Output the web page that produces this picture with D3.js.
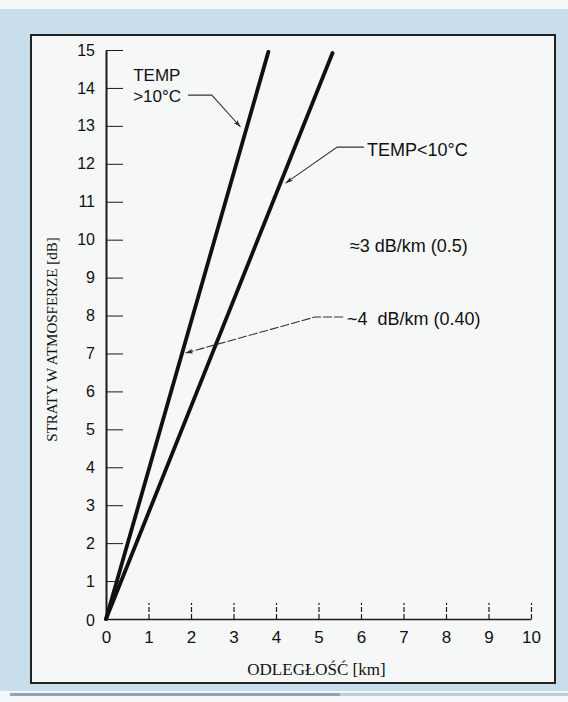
<!DOCTYPE html>
<html>
<head>
<meta charset="utf-8">
<script src="https://cdn.jsdelivr.net/npm/d3@7"></script>
<style>
	body { margin: 0; background: #f4f6f7; }
	.axis path, .axis line { stroke: #1a1a1a; }
	.axis text { font-family: "Liberation Sans", Arial, sans-serif; fill: #111; }
	.lossLine { fill: none; stroke: #111; stroke-width: 3.8; stroke-linecap: round; }
	.leader { fill: none; stroke: #333; stroke-width: 1.1; }
	.note { font-family: "Liberation Sans", Arial, sans-serif; font-size: 18px; fill: #111; }
	.title { font-family: "Liberation Serif", "Times New Roman", serif; fill: #111; }
</style>
</head>
<body>
<div class="mainviz"></div>
<script>
// values
var xTicks = [0, 1, 2, 3, 4, 5, 6, 7, 8, 9, 10];
var yTicks = [0, 1, 2, 3, 4, 5, 6, 7, 8, 9, 10, 11, 12, 13, 14, 15];

var distWarm = [0, 3.82];    // TEMP > 10°C  (km)
var lossWarm = [0, 14.95];   // dB
var distCold = [0, 5.33];    // TEMP < 10°C  (km)
var lossCold = [0, 14.92];   // dB

var noteWarm = ["TEMP", ">10°C"];
var noteCold = "TEMP<10°C";
var noteRate3 = "≈3 dB/km (0.5)";
var noteRate4 = "~4  dB/km (0.40)";

var xTitle = "ODLEGŁOŚĆ [km]";
var yTitle = "STRATY W ATMOSFERZE [dB]";

var W = 568, H = 702;
var margin = { top: 50, right: 37, bottom: 83, left: 106 };
var mainwidth = W - margin.left - margin.right,
	mainheight = H - margin.top - margin.bottom;

var svg = d3.select(".mainviz").append("svg")
	.attr("width", W)
	.attr("height", H);

// scanned page: blue backing with white framed panel
svg.append("rect").attr("x", 0).attr("y", 0).attr("width", W).attr("height", H).attr("fill", "#f4f6f7");
svg.append("rect").attr("x", 0).attr("y", 9).attr("width", W).attr("height", 682).attr("fill", "#c9deed");
svg.append("rect").attr("x", 10).attr("y", 693).attr("width", 330).attr("height", 3).attr("fill", "#8fa6ba");
svg.append("rect").attr("x", 340).attr("y", 693).attr("width", 228).attr("height", 3).attr("fill", "#b9cddc");
svg.append("rect")
	.attr("x", 31).attr("y", 35)
	.attr("width", 524).attr("height", 648)
	.attr("fill", "#f6f7f7")
	.attr("stroke", "#222")
	.attr("stroke-width", 2);

var defs = svg.append("defs");
defs.append("marker")
	.attr("id", "arrow")
	.attr("viewBox", "0 -4 10 8")
	.attr("refX", 10).attr("refY", 0)
	.attr("markerWidth", 9).attr("markerHeight", 6)
	.attr("markerUnits", "userSpaceOnUse")
	.attr("orient", "auto")
	.append("path")
	.attr("d", "M0,-3.2L10,0L0,3.2L2.5,0Z")
	.attr("fill", "#2a2a2a");

var chartGroup = svg.append("g")
	.attr("transform", "translate(" + margin.left + "," + margin.top + ")");

var x = d3.scaleLinear()
	.domain([0, 10])
	.range([0, mainwidth]);

var y = d3.scaleLinear()
	.domain([0, 15])
	.range([mainheight, 0]);

var yAxis = d3.axisLeft(y)
	.tickValues(yTicks.slice(1))
	.tickSizeInner(-17)
	.tickSizeOuter(0)
	.tickPadding(11)
	.tickFormat(d3.format("d"));

var xAxis = d3.axisBottom(x)
	.tickValues(xTicks)
	.tickSizeInner(-16)
	.tickSizeOuter(0)
	.tickPadding(12)
	.tickFormat(d3.format("d"));

var gy = chartGroup.append("g")
	.attr("class", "axis y")
	.call(yAxis);
gy.select(".domain").attr("stroke-width", 2);
gy.selectAll(".tick line").attr("stroke-width", 1).attr("stroke", "#555");
gy.selectAll("text").style("font-size", "16px");

// the 0 label sits under the x axis line
chartGroup.append("text")
	.attr("x", -11).attr("y", y(0) + 2)
	.attr("dy", "0.32em")
	.attr("text-anchor", "end")
	.style("font-family", "Liberation Sans, Arial, sans-serif")
	.style("font-size", "16px")
	.attr("fill", "#111")
	.text(yTicks[0]);

var gx = chartGroup.append("g")
	.attr("class", "axis x")
	.attr("transform", "translate(0," + mainheight + ")")
	.call(xAxis);
gx.select(".domain").attr("stroke-width", 1.6);
gx.selectAll(".tick line").attr("stroke-width", 1.2).attr("stroke", "#444")
	.attr("stroke-dasharray", "5,2")
	.filter(function(d){ return d === 0; }).remove();
gx.selectAll("text").style("font-size", "17px");

var line = d3.line()
	.x(function(d){ return x(d[0]); })
	.y(function(d){ return y(d[1]); });

chartGroup.append("path")
	.attr("class", "lossLine")
	.attr("d", line(d3.zip(distWarm, lossWarm)));

chartGroup.append("path")
	.attr("class", "lossLine")
	.attr("d", line(d3.zip(distCold, lossCold)));

// distance on each line for a given loss
function onWarm(v) { return v * distWarm[1] / lossWarm[1]; }
function onCold(v) { return v * distCold[1] / lossCold[1]; }

var leader = d3.line()
	.x(function(d){ return x(d[0]); })
	.y(function(d){ return y(d[1]); });

// TEMP > 10°C
chartGroup.append("text").attr("class", "note")
	.style("font-size", "17px")
	.attr("x", x(0.64)).attr("y", y(14.17)).text(noteWarm[0]);
chartGroup.append("text").attr("class", "note")
	.style("font-size", "17px")
	.attr("x", x(0.64)).attr("y", y(13.63)).text(noteWarm[1]);
chartGroup.append("path").attr("class", "leader")
	.attr("marker-end", "url(#arrow)")
	.attr("d", leader([[1.93, 13.81], [2.49, 13.81], [onWarm(12.97) - 0.15, 12.97]]));

// TEMP < 10°C
chartGroup.append("text").attr("class", "note")
	.attr("x", x(6.14)).attr("y", y(12.21)).text(noteCold);
chartGroup.append("path").attr("class", "leader")
	.attr("marker-end", "url(#arrow)")
	.attr("d", leader([[6.07, 12.44], [5.44, 12.44], [onCold(11.49) + 0.12, 11.49]]));

// rates
chartGroup.append("text").attr("class", "note")
	.attr("x", x(5.74)).attr("y", y(9.68)).text(noteRate3);

chartGroup.append("text").attr("class", "note")
	.style("white-space", "pre")
	.attr("x", x(5.67)).attr("y", y(7.75)).text(noteRate4);
chartGroup.append("path").attr("class", "leader")
	.attr("stroke-dasharray", "9,2")
	.attr("marker-end", "url(#arrow)")
	.attr("d", leader([[5.58, 7.96], [4.92, 7.96], [onWarm(7.01) + 0.08, 7.01]]));

// axis titles
chartGroup.append("text").attr("class", "title")
	.attr("x", mainwidth / 2 - 2)
	.attr("y", mainheight + 56)
	.attr("text-anchor", "middle")
	.style("font-size", "17px")
	.text(xTitle);

chartGroup.append("text").attr("class", "title")
	.attr("transform", "translate(" + (-49) + "," + (mainheight / 2 + 5) + ") rotate(-90)")
	.attr("text-anchor", "middle")
	.style("font-size", "15px")
	.text(yTitle);
</script>
</body>
</html>
